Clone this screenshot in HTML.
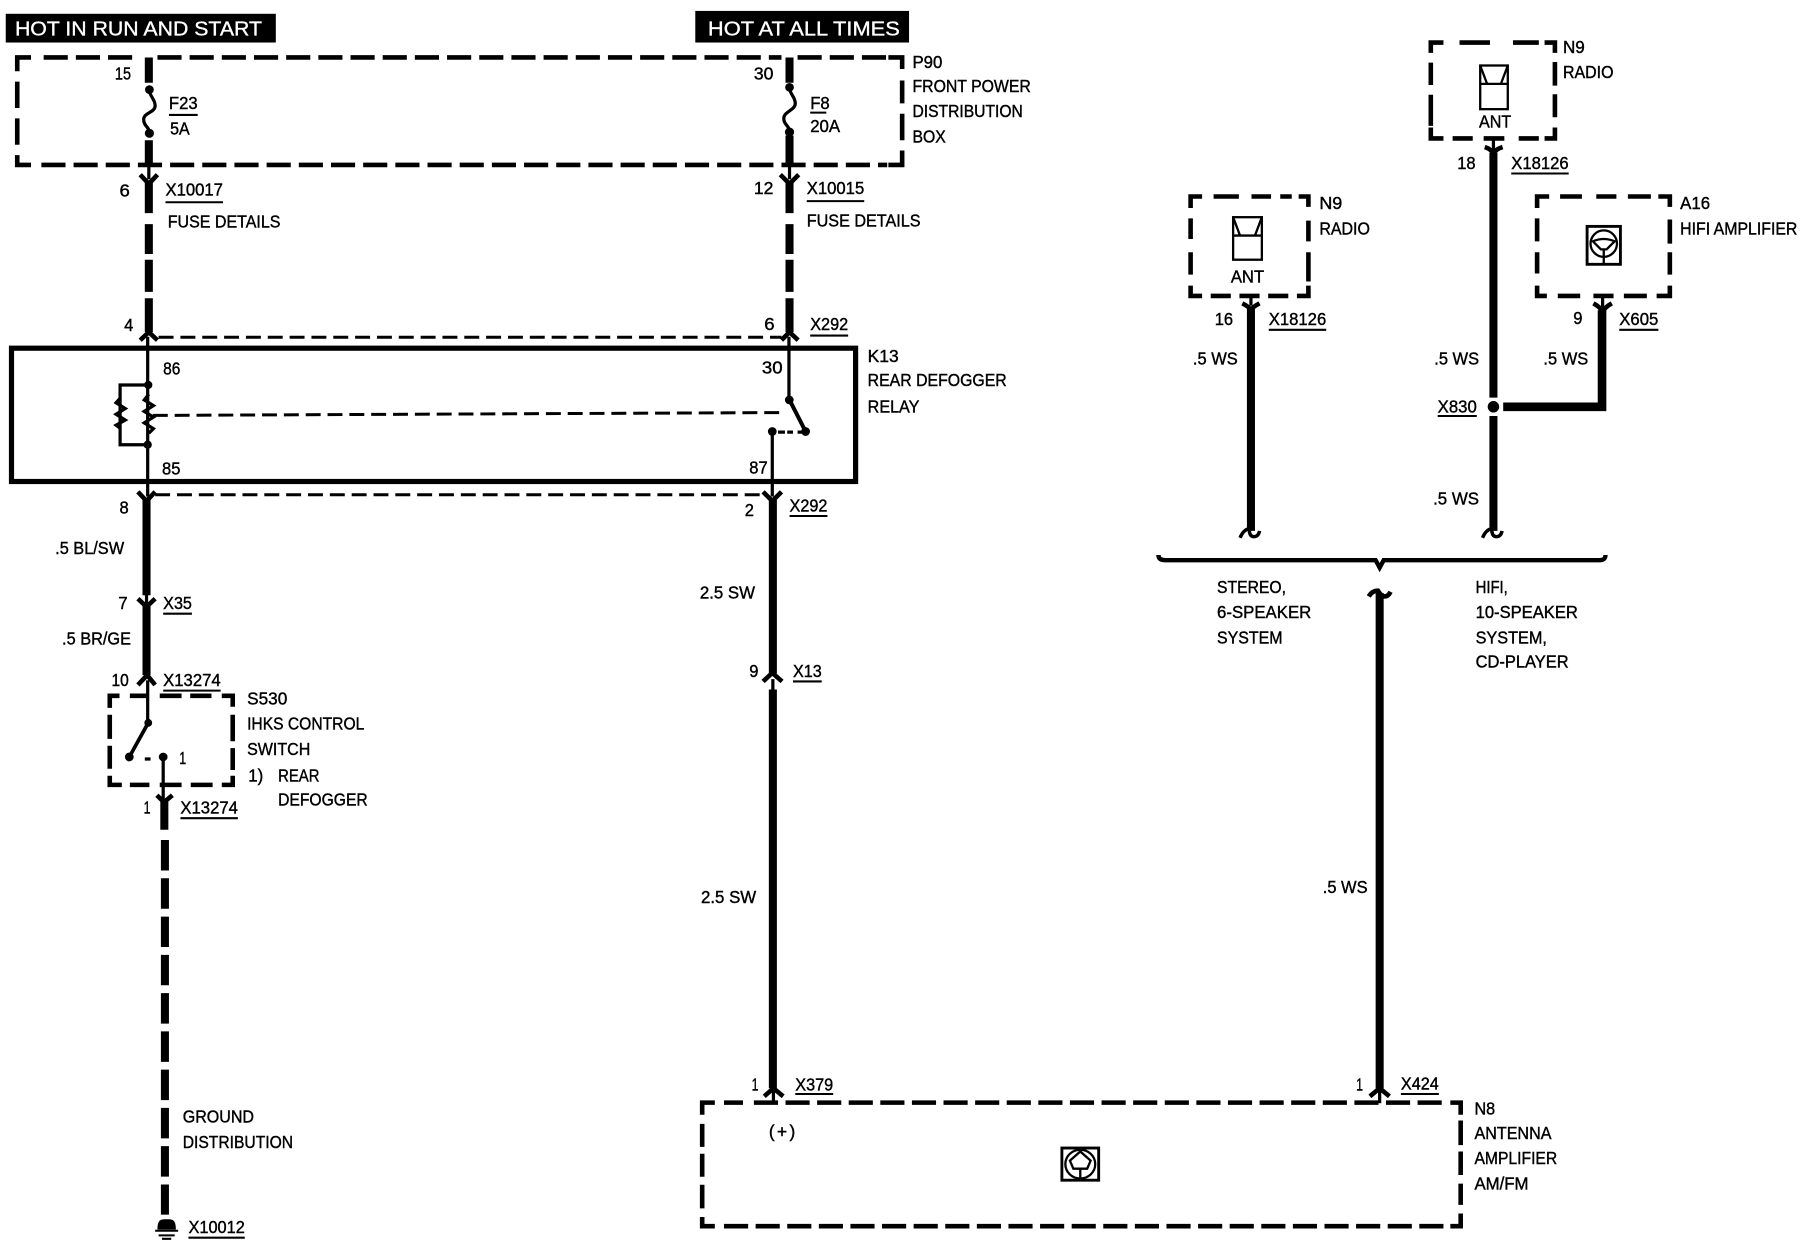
<!DOCTYPE html>
<html><head><meta charset="utf-8"><style>
html,body{margin:0;padding:0;background:#fff}
svg{display:block}
text{font-family:"Liberation Sans",sans-serif;font-size:15px;fill:#000;stroke:#000;stroke-width:.35}
.b{fill:#fff;stroke:#fff;stroke-width:.3;font-size:18px}
.w{stroke:#000;fill:none;stroke-width:7}
.t{stroke:#000;fill:none;stroke-width:2.8}
.d{stroke:#000;fill:none;stroke-width:4}
.h{stroke:#000;fill:none;stroke-width:2.6;stroke-dasharray:13 6}
.y{stroke:#000;fill:none;stroke-width:4}
.u{stroke:#000;stroke-width:1.8}
</style></head><body>
<svg xmlns="http://www.w3.org/2000/svg" width="1802" height="1248" viewBox="0 0 1568 1086" preserveAspectRatio="none">
<rect width="1568" height="1086" fill="#fff"/>
<rect x="5" y="12" width="235" height="25"/>
<rect x="605" y="9.500" width="186" height="27.500"/>
<text class="b" x="13" y="31" textLength="215" lengthAdjust="spacingAndGlyphs">HOT IN RUN AND START</text>
<text class="b" x="616" y="31" textLength="167" lengthAdjust="spacingAndGlyphs">HOT AT ALL TIMES</text>

<!-- dashed boxes -->
<path class="d" d="M15 62V50H27M15 71V94M15 103V126M15 135V143.500H27M785 60V50H773M785 70V90M785 99V122M785 131V143.500H773"/>
<path class="d" stroke-dasharray="21 7" d="M38 50H122M137 50H680M694 50H772"/>
<path class="d" stroke-dasharray="21 7" d="M36 143.500H772"/>

<path class="d" d="M1036 181V171H1046M1056 171H1078M1089 171H1106M1114 171H1124M1130 171H1138.500V180M1036 190V208M1036 219.500V239M1036 248.500V257.500H1046M1053.500 257.500H1071M1078.500 257.500H1096M1103.500 257.500H1121M1128.500 257.500H1138.500V248.500M1138.500 192V210M1138.500 219.500V245"/>
<path class="d" d="M1245 46V37H1256M1270 37H1296.500M1316.500 37H1339M1344 37H1353V46M1245 54.500V74M1245 82.500V109.500M1245 111V120.500H1256M1264 120.500H1281.500M1291 120.500H1309M1321.500 120.500H1339M1344 120.500H1353V111M1353 54V74.500M1353 82V102"/>
<path class="d" d="M1337.500 181V171H1348M1357.500 171H1376.500M1389 171H1406.500M1416.500 171H1436.500M1443 171H1453V180M1337.500 190V210M1337.500 219.500V238M1337.500 248.500V257.500H1346M1355.500 257.500H1375M1386.500 257.500H1404M1413 257.500H1433M1441.500 257.500H1453V248.500M1453 191V212M1453 219.500V239"/>
<path class="d" d="M95.500 616V605.500H104M113 605.500H129M139 605.500H158M165.500 605.500H184M193 605.500H202.500V615M95.500 622V643M95.500 649V669M95.500 675V683H106M113 683H130M139 683H158M166 683H185M193 683H202.500V675M202.500 622V645M202.500 651V670"/>
<path class="d" d="M611 970V959.500H622M611 978V998M611 1004V1024M611 1031V1051.500M611 1059V1067H622M1271 970V959.500H1262M1271 975V996.500M1271 1002V1022.500M1271 1030V1048.500M1271 1056V1067H1262"/>
<path class="d" stroke-dasharray="21 6.500" d="M656 959.500H1255"/>
<path class="d" d="M630 959.500H646.500"/>
<path class="d" stroke-dasharray="21 6.500" d="M630 1067H1257"/>

<path class="h" d="M138 293.500H680M135 430.500H665M133 361.500L682 359"/>
<rect x="10" y="303" width="734.500" height="116" fill="none" stroke="#000" stroke-width="4.500"/>

<!-- left fused wire -->
<path class="w" d="M129.500 50V72M129.500 122V143.500M129.500 159V185.500M129.500 195V221M129.500 226V254M129.500 259.500V289"/>
<circle cx="130" cy="78" r="3.800"/><circle cx="130" cy="116" r="4"/>
<path class="t" d="M130 78C130 84 135 86 135 92S125 98 125 104 130 110 130 116"/>
<path class="t" d="M129.500 143V156"/>
<path class="y" d="M122 152L129.500 160 137 152M122 296L129.500 289 137 296"/>
<!-- right fused wire -->
<path class="w" d="M687 50V72M687 118V143.500M687 159V185.500M687 195V221M687 226V254M687 259.500V289"/>
<circle cx="687" cy="76" r="3.800"/><circle cx="687" cy="115" r="4"/>
<path class="t" d="M687 76C687 82 692 84 692 90S682 97 682 103 687 109 687 115"/>
<path class="t" d="M687 143V156"/>
<path class="y" d="M679 152L687 160 695 152M680 296L687 289 694.500 296"/>

<!-- relay -->
<path class="t" d="M128.500 293V432M129 335H104.500V387H128.500M686.500 293V348M672 376V432"/>
<path stroke="#000" stroke-width="3.500" fill="none" d="M687 348L701 375.500"/>
<path class="t" d="M129.500 343l-4 5 8 5-8 5 8 5-8 5 8 5-4 4M105 346l-4 4.500 8 5-8 5 8 5-8 4.500 4 3"/>
<circle cx="129" cy="335" r="3.600"/><circle cx="128.500" cy="387" r="3.600"/>
<circle cx="686.800" cy="348" r="3.800"/><circle cx="701" cy="375.500" r="3.800"/><circle cx="672" cy="375.500" r="3.800"/>
<path class="t" d="M677 376H683M685 376H690M694 376H700"/>

<!-- lower left wire -->
<path class="y" d="M120 428L127.500 436 135 428M120 521L127.500 528 135 521M120 596L128 587.500 135 596M136.500 692L142.700 698 150 692"/>
<path class="w" d="M127.500 435V518M127.500 527V587.500"/>
<path class="t" d="M127.500 516V526"/>
<path class="t" d="M128.500 592V629"/>
<path class="t" style="stroke-width:3.200" d="M129 629L112.500 658.700"/>
<path class="t" d="M142 659V698M126 660.500H131"/>
<circle cx="129" cy="629" r="3.400"/><circle cx="112.500" cy="658.700" r="3.800"/><circle cx="142" cy="658.700" r="3.800"/>
<path class="w" d="M143 697V722"/>
<path class="w" stroke-dasharray="26.500 6.800" d="M143.500 731V1057"/>
<path d="M137 1070C137 1061 140 1061 145 1061S153 1061 153 1070Z"/>
<path stroke="#000" stroke-width="1.800" d="M135 1071H155M138 1075H152M141 1078H149"/>

<!-- centre wire -->
<path class="y" d="M664 428L672 436 680 428M664 593L672 585.500 680.500 593M665 954L673 947 681.500 954"/>
<path class="w" d="M672.500 435V586M672.500 600V947"/>
<path class="t" d="M672.500 591V601M673 948V959"/>

<!-- N8 wire -->
<path class="w" d="M1200.500 516V947"/>
<path class="y" d="M1191 519Q1194 514 1199 514Q1202 519 1205 519Q1208 519 1210 515M1192 954L1200.500 947 1209 954"/>
<path class="t" d="M1200.500 948V960"/>

<!-- brace -->
<path d="M1008 483Q1008 487.500 1014 487.500H1197L1200.500 494 1204 487.500H1392Q1397 487.500 1397 483" fill="none" stroke="#000" stroke-width="3.800"/>

<!-- radio wires -->
<path class="w" d="M1088.500 268V462"/>
<path class="y" style="stroke-width:3" d="M1079 468Q1082 461 1087 460Q1087 467 1091 467Q1095 467 1096 462"/>
<path class="y" d="M1081 264Q1087 267 1088.500 270 1090 267 1096 264"/>
<path class="t" d="M1088.500 257V266"/>
<path class="w" d="M1299.500 133V346M1299.500 362V462"/>
<path class="y" style="stroke-width:3" d="M1290 468Q1293 461 1298 460Q1298 467 1302 467Q1306 467 1307 462"/>
<path class="y" d="M1292 128Q1298 130 1299.500 134 1301 130 1307.500 128"/>
<path class="t" d="M1299.500 120V131"/>
<circle cx="1299.500" cy="354" r="5"/>
<path d="M1308 354H1394V270" fill="none" stroke="#000" stroke-width="7.500"/>
<path class="y" d="M1386.500 264Q1392 267 1394.500 271 1397 267 1402.500 264"/>
<path class="t" d="M1394.500 257V268"/>

<!-- speaker icons -->
<g fill="none" stroke="#000" stroke-width="2">
<rect x="1073" y="189" width="25" height="37"/><path d="M1073 189L1079 205H1092L1098 189M1073 205H1098"/>
<rect x="1288" y="57" width="24" height="38"/><path d="M1288 57L1294 73H1306L1312 57M1288 73H1312"/>
<rect x="1381" y="197" width="29" height="33" stroke-width="2.500"/><circle cx="1395.500" cy="212" r="11.500"/><path d="M1386 210Q1395.500 206 1405 210L1398 217H1393ZM1395.500 217V229"/>
<rect x="924" y="999" width="32" height="28" stroke-width="2.500"/><ellipse cx="940" cy="1013" rx="13" ry="12.500"/><path d="M931 1010L940 1002 949 1010 946 1017H934ZM940 1017V1025"/>
</g>

<!-- underlines -->
<path class="u" d="M147 100H172M705 98H719M144 176H194M702 175H752M705 292H738M687 449H720M142 534H167M142 601H192M690 593H715M157 712H207M164 1077H213M692 952H725M1219 952H1252M1104 287H1154M1315 151H1365M1409 287H1443M1251 362H1285"/>

<g>
<text x="100" y="69" textLength="14" lengthAdjust="spacingAndGlyphs">15</text>
<text x="147" y="95" textLength="25" lengthAdjust="spacingAndGlyphs">F23</text>
<text x="148" y="117" textLength="17" lengthAdjust="spacingAndGlyphs">5A</text>
<text x="656" y="69" textLength="17" lengthAdjust="spacingAndGlyphs">30</text>
<text x="705" y="95" textLength="17" lengthAdjust="spacingAndGlyphs">F8</text>
<text x="705" y="115" textLength="26" lengthAdjust="spacingAndGlyphs">20A</text>
<text x="794" y="59" textLength="26" lengthAdjust="spacingAndGlyphs">P90</text>
<text x="794" y="80" textLength="103" lengthAdjust="spacingAndGlyphs">FRONT POWER</text>
<text x="794" y="102" textLength="96" lengthAdjust="spacingAndGlyphs">DISTRIBUTION</text>
<text x="794" y="124" textLength="29" lengthAdjust="spacingAndGlyphs">BOX</text>
<text x="104" y="171" textLength="9" lengthAdjust="spacingAndGlyphs">6</text>
<text x="144" y="170" textLength="50" lengthAdjust="spacingAndGlyphs">X10017</text>
<text x="146" y="198" textLength="98" lengthAdjust="spacingAndGlyphs">FUSE DETAILS</text>
<text x="656" y="169" textLength="17" lengthAdjust="spacingAndGlyphs">12</text>
<text x="702" y="169" textLength="50" lengthAdjust="spacingAndGlyphs">X10015</text>
<text x="702" y="197" textLength="99" lengthAdjust="spacingAndGlyphs">FUSE DETAILS</text>
<text x="108" y="288" textLength="8" lengthAdjust="spacingAndGlyphs">4</text>
<text x="665" y="287" textLength="9" lengthAdjust="spacingAndGlyphs">6</text>
<text x="705" y="287" textLength="33" lengthAdjust="spacingAndGlyphs">X292</text>
<text x="755" y="315" textLength="27" lengthAdjust="spacingAndGlyphs">K13</text>
<text x="755" y="336" textLength="121" lengthAdjust="spacingAndGlyphs">REAR DEFOGGER</text>
<text x="755" y="359" textLength="45" lengthAdjust="spacingAndGlyphs">RELAY</text>
<text x="142" y="326" textLength="15" lengthAdjust="spacingAndGlyphs">86</text>
<text x="663" y="325" textLength="18" lengthAdjust="spacingAndGlyphs">30</text>
<text x="141" y="413" textLength="16" lengthAdjust="spacingAndGlyphs">85</text>
<text x="652" y="412" textLength="16" lengthAdjust="spacingAndGlyphs">87</text>
<text x="104" y="447" textLength="8" lengthAdjust="spacingAndGlyphs">8</text>
<text x="648" y="449" textLength="8" lengthAdjust="spacingAndGlyphs">2</text>
<text x="687" y="445" textLength="33" lengthAdjust="spacingAndGlyphs">X292</text>
<text x="48" y="482" textLength="60" lengthAdjust="spacingAndGlyphs">.5 BL/SW</text>
<text x="609" y="521" textLength="48" lengthAdjust="spacingAndGlyphs">2.5 SW</text>
<text x="103" y="530" textLength="8" lengthAdjust="spacingAndGlyphs">7</text>
<text x="142" y="530" textLength="25" lengthAdjust="spacingAndGlyphs">X35</text>
<text x="54" y="561" textLength="60" lengthAdjust="spacingAndGlyphs">.5 BR/GE</text>
<text x="97" y="597" textLength="15" lengthAdjust="spacingAndGlyphs">10</text>
<text x="142" y="597" textLength="50" lengthAdjust="spacingAndGlyphs">X13274</text>
<text x="652" y="589" textLength="8" lengthAdjust="spacingAndGlyphs">9</text>
<text x="690" y="589" textLength="25" lengthAdjust="spacingAndGlyphs">X13</text>
<text x="215" y="613" textLength="35" lengthAdjust="spacingAndGlyphs">S530</text>
<text x="215" y="635" textLength="102" lengthAdjust="spacingAndGlyphs">IHKS CONTROL</text>
<text x="215" y="657" textLength="55" lengthAdjust="spacingAndGlyphs">SWITCH</text>
<text x="216" y="680" textLength="13" lengthAdjust="spacingAndGlyphs">1)</text>
<text x="242" y="680" textLength="36" lengthAdjust="spacingAndGlyphs">REAR</text>
<text x="242" y="701" textLength="78" lengthAdjust="spacingAndGlyphs">DEFOGGER</text>
<text x="156" y="665" textLength="6" lengthAdjust="spacingAndGlyphs">1</text>
<text x="125" y="708" textLength="6" lengthAdjust="spacingAndGlyphs">1</text>
<text x="157" y="708" textLength="50" lengthAdjust="spacingAndGlyphs">X13274</text>
<text x="159" y="977" textLength="62" lengthAdjust="spacingAndGlyphs">GROUND</text>
<text x="159" y="999" textLength="96" lengthAdjust="spacingAndGlyphs">DISTRIBUTION</text>
<text x="164" y="1073" textLength="49" lengthAdjust="spacingAndGlyphs">X10012</text>
<text x="610" y="786" textLength="48" lengthAdjust="spacingAndGlyphs">2.5 SW</text>
<text x="654" y="949" textLength="6" lengthAdjust="spacingAndGlyphs">1</text>
<text x="692" y="949" textLength="33" lengthAdjust="spacingAndGlyphs">X379</text>
<text x="1180" y="949" textLength="6" lengthAdjust="spacingAndGlyphs">1</text>
<text x="1219" y="948" textLength="33" lengthAdjust="spacingAndGlyphs">X424</text>
<text x="669" y="990" textLength="23" lengthAdjust="spacing">(+)</text>
<text x="1283" y="970" textLength="18" lengthAdjust="spacingAndGlyphs">N8</text>
<text x="1283" y="991" textLength="67" lengthAdjust="spacingAndGlyphs">ANTENNA</text>
<text x="1283" y="1013" textLength="72" lengthAdjust="spacingAndGlyphs">AMPLIFIER</text>
<text x="1283" y="1035" textLength="47" lengthAdjust="spacingAndGlyphs">AM/FM</text>
<text x="1151" y="777" textLength="39" lengthAdjust="spacingAndGlyphs">.5 WS</text>
<text x="1148" y="182" textLength="20" lengthAdjust="spacingAndGlyphs">N9</text>
<text x="1148" y="204" textLength="44" lengthAdjust="spacingAndGlyphs">RADIO</text>
<text x="1071" y="246" textLength="29" lengthAdjust="spacingAndGlyphs">ANT</text>
<text x="1057" y="283" textLength="16" lengthAdjust="spacingAndGlyphs">16</text>
<text x="1104" y="283" textLength="50" lengthAdjust="spacingAndGlyphs">X18126</text>
<text x="1038" y="317" textLength="39" lengthAdjust="spacingAndGlyphs">.5 WS</text>
<text x="1360" y="46" textLength="19" lengthAdjust="spacingAndGlyphs">N9</text>
<text x="1360" y="68" textLength="44" lengthAdjust="spacingAndGlyphs">RADIO</text>
<text x="1287" y="111" textLength="28" lengthAdjust="spacingAndGlyphs">ANT</text>
<text x="1268" y="147" textLength="16" lengthAdjust="spacingAndGlyphs">18</text>
<text x="1315" y="147" textLength="50" lengthAdjust="spacingAndGlyphs">X18126</text>
<text x="1462" y="182" textLength="26" lengthAdjust="spacingAndGlyphs">A16</text>
<text x="1462" y="204" textLength="102" lengthAdjust="spacingAndGlyphs">HIFI AMPLIFIER</text>
<text x="1369" y="282" textLength="8" lengthAdjust="spacingAndGlyphs">9</text>
<text x="1409" y="283" textLength="34" lengthAdjust="spacingAndGlyphs">X605</text>
<text x="1248" y="317" textLength="39" lengthAdjust="spacingAndGlyphs">.5 WS</text>
<text x="1343" y="317" textLength="39" lengthAdjust="spacingAndGlyphs">.5 WS</text>
<text x="1251" y="359" textLength="34" lengthAdjust="spacingAndGlyphs">X830</text>
<text x="1247" y="439" textLength="40" lengthAdjust="spacingAndGlyphs">.5 WS</text>
<text x="1059" y="516" textLength="60" lengthAdjust="spacingAndGlyphs">STEREO,</text>
<text x="1059" y="538" textLength="82" lengthAdjust="spacingAndGlyphs">6-SPEAKER</text>
<text x="1059" y="560" textLength="57" lengthAdjust="spacingAndGlyphs">SYSTEM</text>
<text x="1284" y="516" textLength="28" lengthAdjust="spacingAndGlyphs">HIFI,</text>
<text x="1284" y="538" textLength="89" lengthAdjust="spacingAndGlyphs">10-SPEAKER</text>
<text x="1284" y="560" textLength="62" lengthAdjust="spacingAndGlyphs">SYSTEM,</text>
<text x="1284" y="581" textLength="81" lengthAdjust="spacingAndGlyphs">CD-PLAYER</text>
</g>
</svg>
</body></html>
